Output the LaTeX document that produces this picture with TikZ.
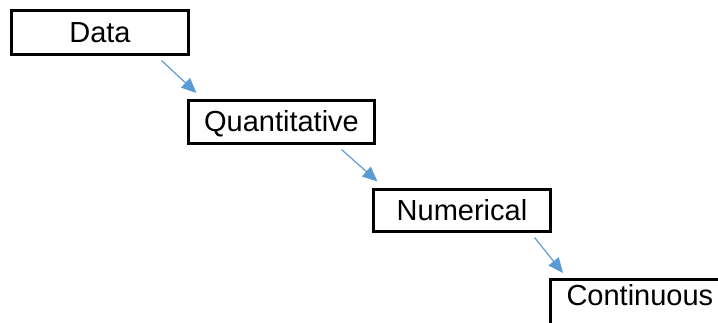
\documentclass[tikz,border=0pt]{standalone}
\usepackage{fontspec}
\setmainfont{Liberation Sans}
\usetikzlibrary{arrows.meta,calc}
\definecolor{arrblue}{HTML}{5B9BD5}
\begin{document}
\begin{tikzpicture}[x=1pt,y=-1pt,
  box/.style={draw=black, line width=3pt, rectangle, inner sep=0pt,
    font=\fontsize{29}{35}\selectfont, text height=19pt, text depth=0pt},
  conn/.style={draw=arrblue, line width=1.2pt, -{Triangle[length=15pt,width=13pt]}}]
\clip (0,0) rectangle (718,322);
\useasboundingbox (0,0) rectangle (718,322);
\node[box, minimum width=177pt, minimum height=44pt] (data) at (100,32.5) {Data};
\node[box, minimum width=186pt, minimum height=43pt] (quant) at (281.5,122) {Quantitative};
\node[box, minimum width=177pt, minimum height=42pt] (num) at (462,210.5) {Numerical};
\node[box, anchor=north west, inner xsep=16.5pt, inner ysep=7.5pt, text depth=30pt] (cont) at (548.5,277.5) {Continuous};
\draw[conn] ($(data.south east)+(-28.5,4.5)$) -- ($(quant.north west)+(9.5,-6)$);
\draw[conn] ($(quant.south east)+(-34.5,4.5)$) -- ($(num.north west)+(5.5,-6.5)$);
\draw[conn] ($(num.south east)+(-17.5,4.5)$) -- ($(cont.north west)+(14.5,-4.5)$);
\end{tikzpicture}
\end{document}
